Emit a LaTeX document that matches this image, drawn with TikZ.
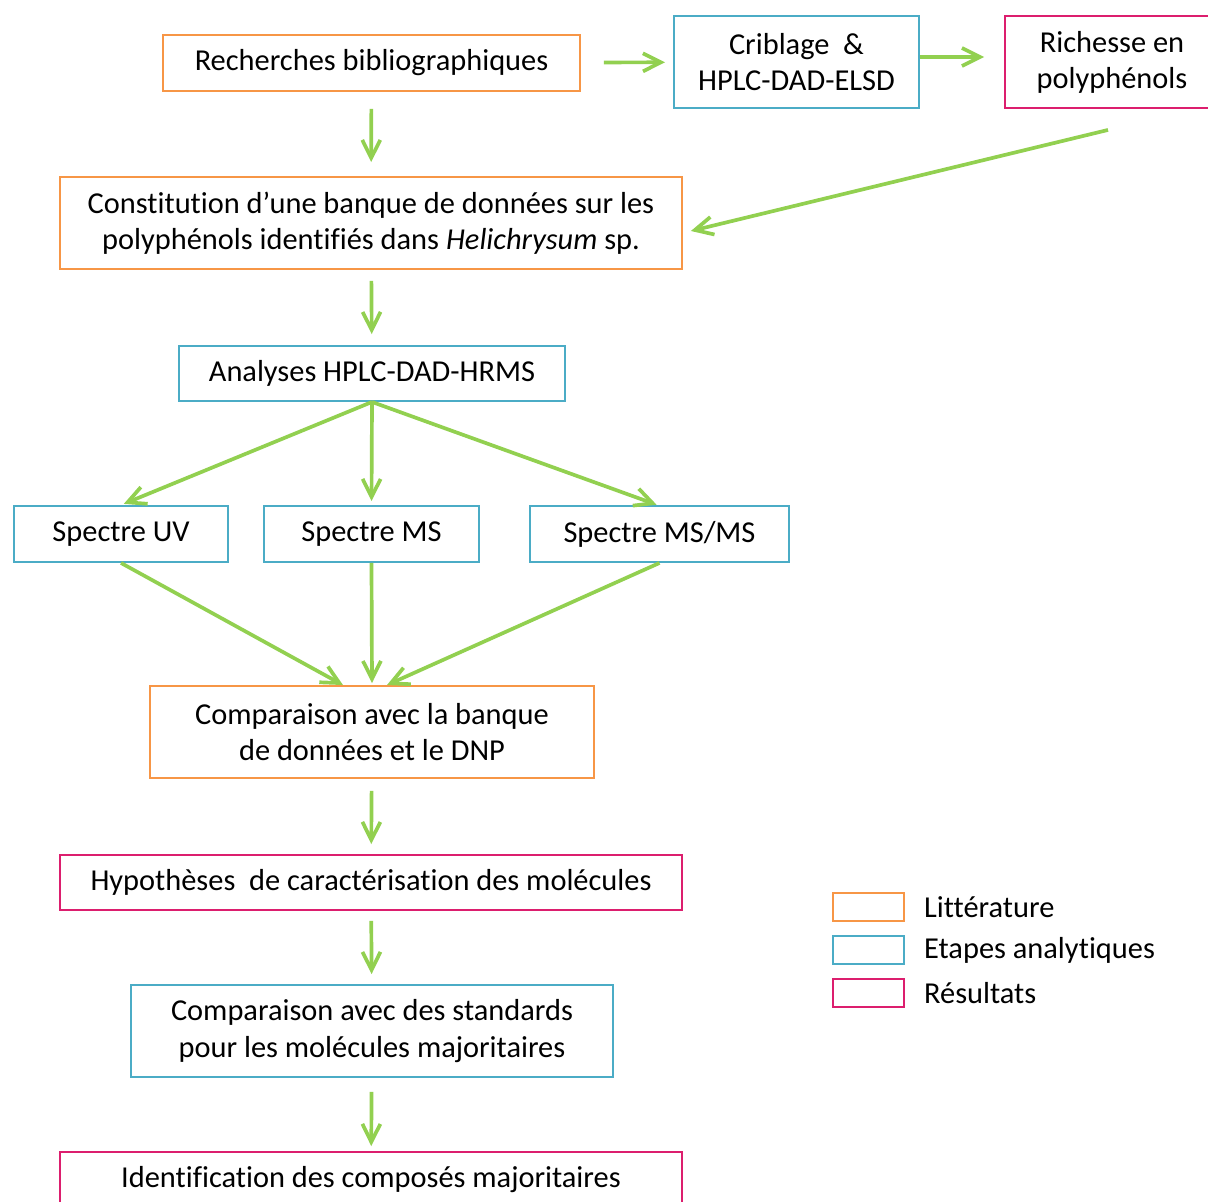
\documentclass[tikz,border=0pt]{standalone}
\usepackage{fontspec}
\setmainfont{Carlito}[Ligatures=NoCommon]
\usepackage{tikz}
\usetikzlibrary{arrows.meta,positioning,calc}

\definecolor{litorange}{HTML}{F79646}
\definecolor{anablue}{HTML}{4BACC6}
\definecolor{respink}{HTML}{DC1E6E}
\definecolor{arrowgreen}{HTML}{92D050}

\begin{document}
\begin{tikzpicture}[
    x=0.02cm, y=-0.02cm,
    every node/.style={font=\fontsize{17.3}{20.6}\selectfont},
    lit/.style={rectangle, draw=litorange, line width=1.1pt, align=center, inner sep=0pt},
    ana/.style={rectangle, draw=anablue, line width=1.1pt, align=center, inner sep=0pt},
    res/.style={rectangle, draw=respink, line width=1.1pt, align=center, inner sep=0pt},
    arrow/.style={-{Straight Barb[length=0.36cm, width=0.36cm]}, line width=2.1pt, draw=arrowgreen}
]
    \useasboundingbox (0,0) rectangle (1208,1202);

    % top row
    \node [lit, minimum width=8.34cm, minimum height=1.12cm] (biblio) at (371.5,63) {Recherches bibliographiques};
    \node [ana, minimum width=4.9cm, minimum height=1.84cm] (crib) at (796.5,62) {Criblage\ \ \&\\HPLC-DAD-ELSD};
    \node [res, minimum width=4.28cm, minimum height=1.84cm] (rich) at (1112,62) {Richesse en\\polyphénols};

    % main column
    \node [lit, minimum width=12.44cm, minimum height=1.84cm] (banque) at (371,223) {Constitution d'une banque de données sur les\\polyphénols identifiés dans \textit{Helichrysum} sp.};
    \node [ana, minimum width=7.72cm, minimum height=1.1cm] (hrms) at (372,373.5) {Analyses HPLC-DAD-HRMS};
    \node [ana, minimum width=4.28cm, minimum height=1.12cm] (uv) at (121,534) {Spectre UV};
    \node [ana, minimum width=4.3cm, minimum height=1.12cm] (ms) at (371.5,534) {Spectre MS};
    \node [ana, minimum width=5.18cm, minimum height=1.12cm] (msms) at (659.5,534) {Spectre MS/MS};
    \node [lit, minimum width=8.88cm, minimum height=1.84cm] (compdnp) at (372,732) {Comparaison avec la banque\\de données et le DNP};
    \node [res, minimum width=12.44cm, minimum height=1.1cm] (hypo) at (371,882.5) {Hypothèses\ \ de caractérisation des molécules};
    \node [ana, minimum width=9.64cm, minimum height=1.84cm] (compstd) at (372,1031) {Comparaison avec des standards\\pour les molécules majoritaires};
    \node [res, minimum width=12.44cm, minimum height=1.12cm] (ident) at (371,1180) {Identification des composés majoritaires};

    % legend
    \node [lit, minimum width=1.42cm, minimum height=0.56cm] (keylit) at (868.5,907) {};
    \node [ana, minimum width=1.42cm, minimum height=0.56cm, below=0.26cm of keylit] (keyana) {};
    \node [res, minimum width=1.42cm, minimum height=0.56cm, below=0.26cm of keyana] (keyres) {};
    \node [right=0.26cm of keylit] {Littérature};
    \node [right=0.26cm of keyana] {Etapes analytiques};
    \node [right=0.26cm of keyres] {Résultats};

    % connectors
    \draw [arrow, shorten <=0.46cm, shorten >=0.16cm] (biblio) -- (crib);
    \draw [arrow, shorten >=0.4cm] (crib.east |- 0,57) -- (rich.west |- 0,57);
    \draw [arrow] ($(rich.south)+(-4,21)$) -- ($(banque.east)+(8,8)$);
    \draw [arrow, shorten <=0.34cm, shorten >=0.28cm] (biblio) -- (banque);
    \draw [arrow, shorten <=0.22cm, shorten >=0.22cm] (banque) -- (hrms);
    \draw [arrow, shorten >=0.06cm] (hrms.south) -- (uv.north);
    \draw [arrow, shorten >=0.08cm] (hrms.south) -- (ms.north);
    \draw [arrow, shorten >=0.02cm] (hrms.south) -- ($(msms.north)+(-2,0)$);
    \draw [arrow] (uv.south) -- ($(compdnp.north)+(-29,0)$);
    \draw [arrow, shorten >=0.04cm] (ms.south) -- (compdnp.north);
    \draw [arrow] (msms.south) -- ($(compdnp.north)+(15,0)$);
    \draw [arrow, shorten <=0.24cm, shorten >=0.2cm] (compdnp) -- (hypo);
    \draw [arrow, shorten <=0.2cm, shorten >=0.2cm] (hypo) -- (compstd);
    \draw [arrow, shorten <=0.28cm, shorten >=0.1cm] (compstd) -- (ident);
\end{tikzpicture}
\end{document}
